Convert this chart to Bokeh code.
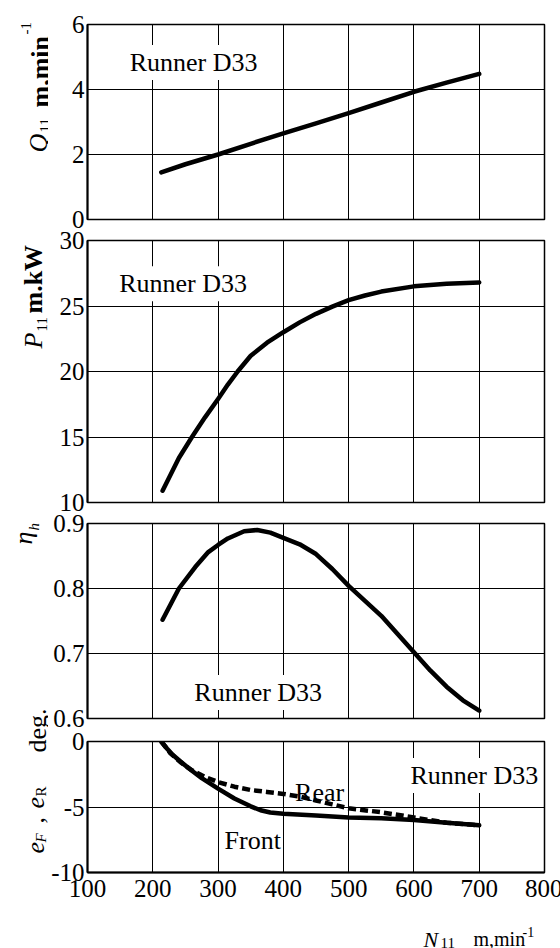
import math
from bokeh.plotting import figure
from bokeh.layouts import column, row
from bokeh.models import Range1d, FixedTicker, PrintfTickFormatter, Label
from bokeh.core.properties import value
from bokeh.embed import file_html
from bokeh.resources import INLINE

# ---------------- data ----------------
x_ticks = [100, 200, 300, 400, 500, 600, 700, 800]

n_q = [213, 250, 300, 350, 400, 450, 500, 550, 600, 650, 700]
q11 = [1.45, 1.70, 2.0, 2.33, 2.65, 2.96, 3.27, 3.60, 3.93, 4.21, 4.48]

n_p = [215, 240, 260, 280, 300, 315, 330, 350, 375, 400, 425, 450, 475, 500, 525, 550, 600, 650, 700]
p11 = [10.9, 13.4, 15.0, 16.5, 17.9, 19.0, 20.0, 21.2, 22.2, 23.0, 23.75, 24.4, 24.95, 25.45, 25.8,
       26.1, 26.5, 26.7, 26.8]

n_eta = [215, 228, 240, 265, 285, 300, 315, 340, 360, 380, 400, 425, 450, 475, 500, 525, 550, 575, 600, 625, 650, 675, 700]
eta_h = [0.752, 0.777, 0.800, 0.833, 0.856, 0.867, 0.877, 0.888, 0.890, 0.886, 0.878, 0.868, 0.853, 0.830,
         0.804, 0.781, 0.758, 0.730, 0.702, 0.674, 0.649, 0.628, 0.612]

n_front = [213, 222, 230, 242, 254, 275, 300, 325, 350, 365, 380, 400, 450, 500, 550, 600, 650, 700]
e_front = [0.0, -0.55, -1.0, -1.5, -2.0, -2.8, -3.6, -4.35, -4.95, -5.25, -5.42, -5.52, -5.65, -5.8, -5.85,
           -6.0, -6.2, -6.4]

n_rear = [213, 220, 227, 243, 260, 280, 300, 325, 350, 375, 400, 425, 450, 475, 500, 550, 600, 650, 700]
e_rear = [0.0, -0.45, -0.9, -1.6, -2.2, -2.7, -3.1, -3.45, -3.7, -3.85, -4.0, -4.2, -4.5, -4.8, -5.1, -5.4, -5.8, -6.2, -6.4]

q_ticks = [0, 2, 4, 6]
p_ticks = [10, 15, 20, 25, 30]
eta_ticks = [0.6, 0.7, 0.8, 0.9]
e_ticks = [-10, -5, 0]

FONT = "Liberation Serif"
FRAME_W = 457
TITLE_W = 48          # width of the strip that carries the vertical axis titles
LEFT = 85             # page x of the frames' left edge
MAIN_H = 922          # height of the stacked panels
PAGE_H = 948


def make_fig(y0, y1, yticks, fmt, fh, top, bottom, with_xaxis):
    p = figure(title=None, frame_width=FRAME_W, frame_height=fh,
               min_border_left=LEFT - TITLE_W, min_border_right=18,
               min_border_top=top, min_border_bottom=bottom,
               x_range=Range1d(100, 800), y_range=Range1d(y0, y1),
               x_axis_location="below" if with_xaxis else None,
               output_backend="svg", toolbar_location=None,
               background_fill_color="white", border_fill_color="white")
    p.outline_line_color = "black"
    p.outline_line_width = 1.5
    p.outline_line_alpha = 1.0
    p.xgrid.ticker = FixedTicker(ticks=x_ticks)
    p.ygrid.ticker = FixedTicker(ticks=yticks)
    for g in (p.xgrid, p.ygrid):
        g.grid_line_color = "black"
        g.grid_line_width = 1
        g.grid_line_alpha = 1.0
    ax = p.yaxis[0]
    ax.ticker = FixedTicker(ticks=yticks)
    ax.formatter = PrintfTickFormatter(format=fmt)
    ax.axis_line_color = "black"
    ax.axis_line_width = 2
    ax.major_tick_in = 0
    ax.major_tick_out = 0
    ax.minor_tick_line_color = None
    ax.major_label_standoff = 3
    ax.major_label_text_font = FONT
    ax.major_label_text_font_size = "25px"
    ax.major_label_text_color = "black"
    if with_xaxis:
        xa = p.xaxis[0]
        xa.ticker = FixedTicker(ticks=x_ticks)
        xa.formatter = PrintfTickFormatter(format="%d")
        xa.axis_line_color = "black"
        xa.axis_line_width = 2
        xa.major_tick_in = 0
        xa.major_tick_out = 0
        xa.minor_tick_line_color = None
        xa.major_label_standoff = 7
        xa.major_label_text_font = FONT
        xa.major_label_text_font_size = "25px"
        xa.major_label_text_color = "black"
    return p


def note(p, x, y, text, bg=None):
    kw = {}
    if bg is not None:
        kw = dict(background_fill_color=bg, background_fill_alpha=1.0, padding=3)
    p.add_layout(Label(x=x, y=y, text=text, text_font=FONT, text_font_size="26px",
                       text_color="black", text_align="left",
                       text_baseline="alphabetic", **kw))


def blank_fig(w, h):
    f = figure(title=None, frame_width=w, frame_height=h, min_border=0,
               x_range=Range1d(0, w), y_range=Range1d(0, h),
               x_axis_location=None, y_axis_location=None,
               output_backend="svg", toolbar_location=None,
               background_fill_color="white", border_fill_color="white")
    f.outline_line_color = None
    f.xgrid.visible = False
    f.ygrid.visible = False
    return f


def put(f, h, x_px, y_px, text, size, style, angle):
    # x_px, y_px: pixels (inside this strip) of the text's baseline start
    f.text(x=[x_px], y=[h - y_px], text=[text], angle=angle,
           text_font=value(FONT), text_font_size=value(f"{size}px"),
           text_font_style=value(style), text_color="black",
           text_align=value("left"), text_baseline=value("alphabetic"))


LW = 4.5

# ---- panel 1 : Q11 ----
p1 = make_fig(0, 6, q_ticks, "%d", 195, 24, 10, False)
p1.line(n_q, q11, line_width=LW, color="black", line_cap="round", line_join="round")
note(p1, 160, 4.83, "Runner D33", bg="white")

# ---- panel 2 : P11 ----
p2 = make_fig(10, 30, p_ticks, "%d", 262, 11, 10, False)
p2.line(n_p, p11, line_width=LW, color="black", line_cap="round", line_join="round")
note(p2, 144, 26.7, "Runner D33", bg="white")

# ---- panel 3 : eta_h ----
p3 = make_fig(0.6, 0.9, eta_ticks, "%.1f", 195, 11, 11, False)
p3.line(n_eta, eta_h, line_width=LW, color="black", line_cap="round", line_join="round")
note(p3, 259, 0.64, "Runner D33", bg="white")

# ---- panel 4 : e_F, e_R ----
p4 = make_fig(-10, 0, e_ticks, "%d", 131, 12, MAIN_H - 872, True)
p4.line(n_front, e_front, line_width=LW, color="black", line_cap="round", line_join="round")
p4.line(n_rear, e_rear, line_width=4.5, color="black", line_dash="8 4", line_join="round")
note(p4, 590, -2.6, "Runner D33", bg="white")
note(p4, 418, -3.9, "Rear")
note(p4, 310, -7.56, "Front")

# ---- vertical axis titles (strip on the left) ----
tf = blank_fig(TITLE_W, MAIN_H)
V = math.pi / 2
for t, s, st, bx, sy in [
        ("Q", 26, "italic", 38, 152), ("11", 15, "normal", 44, 132),
        ("m,min", 26, "bold", 40, 107), ("-1", 15, "normal", 25, 34),
        ("P", 26, "italic", 33, 348), ("11", 15, "normal", 41, 331),
        ("m.kW", 26, "bold", 33, 313),
        ("\u03b7", 26, "italic", 23, 544), ("h", 15, "italic", 33, 530),
        ("e", 26, "italic", 35, 853), ("F", 15, "italic", 40, 842),
        (",", 26, "normal", 35, 823), ("e", 26, "italic", 35, 808),
        ("R", 15, "normal", 40, 796), ("deg.", 26, "normal", 37, 752)]:
    put(tf, MAIN_H, bx, sy, t, s, st, V)

# ---- horizontal axis title (strip at the bottom) ----
XH = PAGE_H - MAIN_H
xf = blank_fig(560, XH)
for t, s, st, x_px, base_px in [("N", 22, "italic", 423, 939),
                                 ("11", 15, "normal", 440, 942),
                                 ("m,min", 20, "normal", 473, 938),
                                 ("-1", 14, "normal", 522, 931)]:
    put(xf, XH, x_px, base_px - MAIN_H, t, s, st, 0.0)

layout = column(row(tf, column(p1, p2, p3, p4, spacing=0), spacing=0), xf, spacing=0)
open("out.html", "w").write(file_html(layout, INLINE))
